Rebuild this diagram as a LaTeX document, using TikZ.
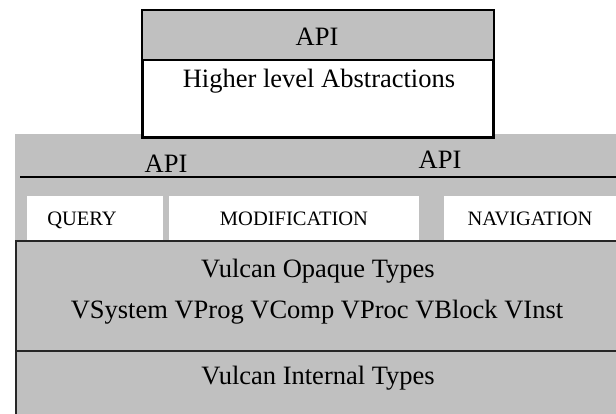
\documentclass[tikz,border=0pt]{standalone}
\usepackage{fontspec}
\setmainfont{Liberation Serif}
\definecolor{panelgray}{RGB}{192,192,192}
\begin{document}
\begin{tikzpicture}[x=1pt,y=-1pt,
  biglabel/.style={inner sep=0pt, anchor=base, font=\fontsize{26.5}{30}\selectfont},
  smalllabel/.style={inner sep=0pt, anchor=base, font=\fontsize{20.5}{24}\selectfont},
  whitebox/.style={fill=white, draw=none, inner sep=0pt, anchor=north west, minimum height=44pt},
  layerbox/.style={fill=panelgray, draw=black!85, line width=1.5pt, inner sep=0pt, anchor=north west}]
\useasboundingbox (0,0) rectangle (616,413);
% large gray panel
\fill[panelgray] (15,134) rectangle (620,420);
% top box
\node[draw=black, line width=2pt, fill=white, inner sep=0pt, anchor=north west,
      minimum width=350pt, minimum height=126.5pt] (top) at (142,9.5) {};
\fill[panelgray] (top.north west) rectangle (top.north east |- 0,60);
\draw[line width=2pt] (top.north west |- 0,60) -- (top.north east |- 0,60);
\draw[line width=2pt] (top.south west) rectangle (top.north east);
\node[biglabel] (apitop) at (317,45) {API};
\node[biglabel] (higher) at (319,87) {Higher level Abstractions};
% API row
\node[biglabel] (apileft) at (166,172) {API};
\node[biglabel] (apiright) at (440,168) {API};
\coordinate (lineL) at (20,177);
\coordinate (lineR) at (620,177);
\draw[line width=2pt] (lineL) -- (lineR);
% white boxes
\node[whitebox, minimum width=136pt] (query) at (27,196) {};
\node[whitebox, minimum width=250pt] (modif) at (169,196) {};
\node[whitebox, minimum width=180pt] (navig) at (444,196) {};
\node[smalllabel] at (82,225) {QUERY};
\node[smalllabel] at (294,225) {MODIFICATION};
\node[smalllabel] at (530,225) {NAVIGATION};
% opaque types
\node[layerbox, minimum width=610pt, minimum height=110pt] (opaque) at (15,240) {};
\node[biglabel] at (318,277) {Vulcan Opaque Types};
\node[biglabel] at (317,318) {VSystem VProg VComp VProc VBlock VInst};
% internal types
\node[layerbox, minimum width=610pt, minimum height=80pt] (internal) at (15,350) {};
\node[biglabel] at (318,384) {Vulcan Internal Types};
\end{tikzpicture}
\end{document}
